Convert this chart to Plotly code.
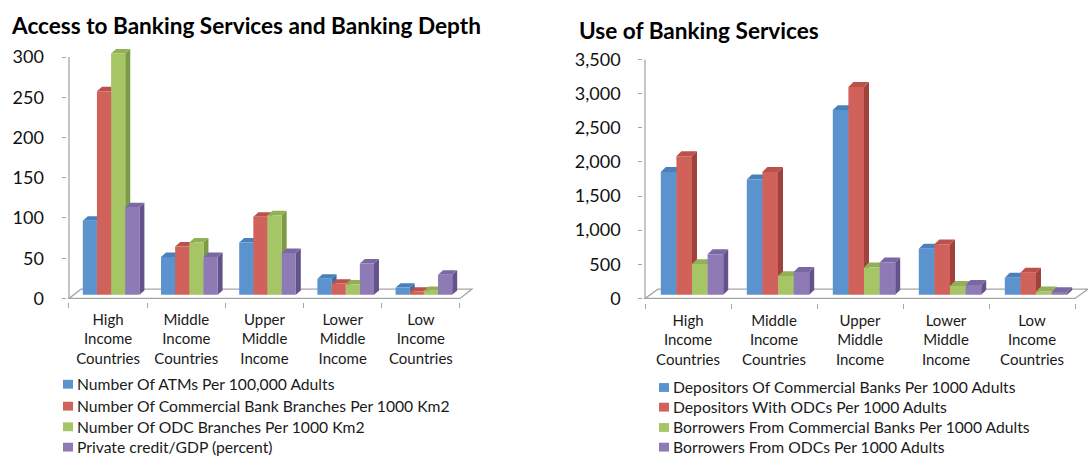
import plotly.graph_objects as go

# ---------------------------------------------------------------- data
categories = [
    "High<br>Income<br>Countries",
    "Middle<br>Income<br>Countries",
    "Upper<br>Middle<br>Income",
    "Lower<br>Middle<br>Income",
    "Low<br>Income<br>Countries",
]

access_names = [
    "Number Of ATMs Per 100,000 Adults",
    "Number Of Commercial Bank Branches Per 1000 Km2",
    "Number Of ODC Branches Per 1000 Km2",
    "Private credit/GDP (percent)",
]
atms_per_100k = [92, 47, 65, 20, 9]
cb_branches_per_1000km2 = [253, 60, 97, 14, 4]
odc_branches_per_1000km2 = [300, 65, 99, 13, 5]
private_credit_gdp = [109, 47, 52, 39, 25]
access_ticks = [0, 50, 100, 150, 200, 250, 300]
access_ticktext = ["0", "50", "100", "150", "200", "250", "300"]

use_names = [
    "Depositors Of Commercial Banks Per 1000 Adults",
    "Depositors With ODCs Per 1000 Adults",
    "Borrowers From Commercial Banks Per 1000 Adults",
    "Borrowers From ODCs Per 1000 Adults",
]
depositors_cb = [1800, 1690, 2705, 675, 250]
depositors_odc = [2030, 1800, 3045, 740, 325]
borrowers_cb = [450, 275, 400, 130, 50]
borrowers_odc = [595, 335, 475, 145, 40]
use_ticks = [0, 500, 1000, 1500, 2000, 2500, 3000, 3500]
use_ticktext = ["0", "500", "1,000", "1,500", "2,000", "2,500", "3,000", "3,500"]

# ---------------------------------------------------------------- styling
W, H = 1088, 462
FONT = "Lato"
front_col = ["#5B93CF", "#D1625B", "#A6C565", "#8E7AB5"]
side_col = ["#3F6FA2", "#A0423C", "#7C9A44", "#64538B"]
top_col = ["#4A80BC", "#BB514B", "#92B157", "#7A68A3"]
axis_col = "#A6A6A6"


def px_x(p):
    return p / W


def px_y(p):
    return 1 - p / H


fig = go.Figure()
shapes = []
annotations = []


def add_panel(idx, series, names, ticks, ticktext, cfg):
    xa = "x" if idx == 1 else f"x{idx}"
    ya = "y" if idx == 1 else f"y{idx}"
    xkey = "xaxis" if idx == 1 else f"xaxis{idx}"
    ykey = "yaxis" if idx == 1 else f"yaxis{idx}"

    ux = cfg["px_per_cat"]          # px per category
    uy = cfg["px_per_unit"]         # px per value unit
    x_lo, x_hi = cfg["xrange"]
    y_lo, y_hi = cfg["yrange"]

    left_px = cfg["cat_left_px"] + (x_lo + 0.5) * ux
    right_px = cfg["cat_left_px"] + (x_hi + 0.5) * ux
    bottom_px = cfg["zero_px"] - y_lo * uy
    top_px = cfg["zero_px"] - y_hi * uy

    bw = cfg["bar_px"] / ux
    shift = cfg["shift_px"] / ux
    base = cfg["base_px"] / uy
    dx = cfg["depth_px"][0] / ux
    dy = cfg["depth_px"][1] / uy
    fdx = cfg["floor_px"][0] / ux
    fdy = cfg["floor_px"][1] / uy
    n = len(series)

    # floor of the 3-D plot
    shapes.append(dict(
        type="path", xref=xa, yref=ya, layer="below",
        path=(f"M -0.5,0 L 4.5,0 L {4.5 + fdx},{fdy} "
              f"L {-0.5 + fdx},{fdy} Z"),
        line=dict(color=axis_col, width=1.3), fillcolor="rgba(0,0,0,0)",
    ))
    # value axis line
    shapes.append(dict(
        type="line", xref=xa, yref=ya, layer="below",
        x0=-0.5, x1=-0.5, y0=0, y1=ticks[-1],
        line=dict(color=axis_col, width=1.3),
    ))

    for j, vals in enumerate(series):
        xs = [i + shift + (j - n / 2) * bw + bw / 2 for i in range(len(vals))]
        fig.add_trace(go.Bar(
            x=xs, y=vals, base=[base] * len(vals), width=bw,
            name=names[j], marker=dict(color=front_col[j], line=dict(width=0)),
            xaxis=xa, yaxis=ya, showlegend=False,
        ))
        for xc, v in zip(xs, vals):
            x0, x1 = xc - bw / 2, xc + bw / 2
            y0, y1 = base, base + v
            shapes.append(dict(
                type="path", xref=xa, yref=ya, layer="below",
                path=(f"M {x1},{y0} L {x1 + dx},{y0 + dy} "
                      f"L {x1 + dx},{y1 + dy} L {x1},{y1} Z"),
                fillcolor=side_col[j], line=dict(width=0),
            ))
            shapes.append(dict(
                type="path", xref=xa, yref=ya, layer="below",
                path=(f"M {x0},{y1} L {x0 + dx},{y1 + dy} "
                      f"L {x1 + dx},{y1 + dy} L {x1},{y1} Z"),
                fillcolor=top_col[j], line=dict(width=0),
            ))

    fig.update_layout({
        xkey: dict(
            domain=[px_x(left_px), min(1.0, px_x(right_px))],
            range=[x_lo, x_hi], anchor=ya,
            tickmode="array", tickvals=list(range(len(categories))),
            ticktext=categories, ticks="outside", ticklen=0,
            ticklabelstandoff=cfg["xstandoff"],
            tickfont=dict(family=FONT, size=15, color="#1a1a1a"),
            showgrid=False, zeroline=False, showline=False,
            minor=dict(tickmode="array", tickvals=[k - 0.5 for k in range(6)],
                       ticks="outside", ticklen=5, tickcolor=axis_col,
                       tickwidth=1.3, showgrid=False),
            fixedrange=True,
        ),
        ykey: dict(
            domain=[px_y(bottom_px), px_y(top_px)],
            range=[y_lo, y_hi], anchor=xa,
            tickmode="array", tickvals=ticks, ticktext=ticktext,
            ticks="outside", ticklen=4, tickcolor=axis_col, tickwidth=1.3,
            ticklabelstandoff=cfg["ystandoff"],
            tickfont=dict(family=FONT, size=18, color="#111111"),
            showgrid=False, zeroline=False, showline=False,
            fixedrange=True,
        ),
    })

    # title
    annotations.append(dict(
        xref="paper", yref="paper", x=px_x(cfg["title_xy"][0]),
        y=px_y(cfg["title_xy"][1]), xanchor="left", yanchor="middle",
        text=f"<b>{cfg['title']}</b>", showarrow=False,
        font=dict(family=FONT, size=22.6, color="#000000"),
    ))

    # legend: coloured squares with labels
    lx = cfg["legend_x"]
    for j, name in enumerate(names):
        ly = cfg["legend_y"][j]
        shapes.append(dict(
            type="rect", xref="paper", yref="paper",
            x0=px_x(lx), x1=px_x(lx + 10), y0=px_y(ly + 4.5), y1=px_y(ly - 4.5),
            fillcolor=front_col[j], line=dict(width=0),
        ))
        annotations.append(dict(
            xref="paper", yref="paper", x=px_x(lx + 12), y=px_y(ly),
            xanchor="left", yanchor="middle", text=name, showarrow=False,
            font=dict(family=FONT, size=15.7, color="#1a1a1a"),
        ))


add_panel(
    1,
    [atms_per_100k, cb_branches_per_1000km2, odc_branches_per_1000km2, private_credit_gdp],
    access_names, access_ticks, access_ticktext,
    dict(
        title="Access to Banking Services and Banking Depth", title_xy=(9, 25),
        cat_left_px=69, px_per_cat=78.2, zero_px=302.7, px_per_unit=245.7 / 300,
        xrange=(-0.52, 4.7), yrange=(-4, 315),
        bar_px=14.15, shift_px=3, base_px=3.7, depth_px=(5, 4.5),
        floor_px=(12, 9.5), xstandoff=4, ystandoff=15,
        legend_x=63, legend_y=[390, 412.3, 433.3, 454],
    ),
)
add_panel(
    2,
    [depositors_cb, depositors_odc, borrowers_cb, borrowers_odc],
    use_names, use_ticks, use_ticktext,
    dict(
        title="Use of Banking Services", title_xy=(577, 30),
        cat_left_px=645, px_per_cat=86, zero_px=302.7, px_per_unit=243.2 / 3500,
        xrange=(-0.52, 4.651), yrange=(-60, 3650),
        bar_px=15.6, shift_px=4, base_px=3.7, depth_px=(5, 5),
        floor_px=(13, 9.5), xstandoff=4, ystandoff=14,
        legend_x=659, legend_y=[393.3, 413.3, 434, 454],
    ),
)

fig.update_layout(
    width=W, height=H, margin=dict(l=0, r=0, t=0, b=0),
    paper_bgcolor="white", plot_bgcolor="white",
    barmode="overlay", showlegend=False,
    shapes=shapes, annotations=annotations,
    font=dict(family=FONT),
)

fig.write_html("out.html")
